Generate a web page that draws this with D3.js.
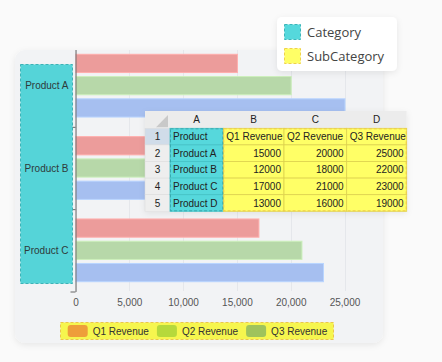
<!DOCTYPE html>
<html>
<head>
<meta charset="utf-8">
<script src="https://cdn.jsdelivr.net/npm/d3@7"></script>
<style>
  html, body { margin: 0; padding: 0; background: #fafafa; }
  svg { display: block; font-family: "Liberation Sans", Arial, sans-serif; }
</style>
</head>
<body>
<svg id="chart" width="442" height="362"></svg>
<script>
// data
var products = ["Product A", "Product B", "Product C", "Product D"];
var seriesNames = ["Q1 Revenue", "Q2 Revenue", "Q3 Revenue"];
var q1Values = [15000, 12000, 17000, 13000];
var q2Values = [20000, 18000, 21000, 16000];
var q3Values = [25000, 22000, 23000, 19000];
var xTicks = [0, 5000, 10000, 15000, 20000, 25000];
var colLetters = ["A", "B", "C", "D"];
var legendNames = ["Category", "SubCategory"];

// only the first three products are charted
var chartProducts = products.slice(0, 3);
var barColors = ["#ec9c9b", "#b7d8a9", "#a6bff0"];
var legendColors = ["#ee9e3a", "#b6d93b", "#9fc35c"];

var svg = d3.select("#chart");
var defs = svg.append("defs");

var shadow = defs.append("filter").attr("id", "shadow")
    .attr("x", "-20%").attr("y", "-20%").attr("width", "140%").attr("height", "140%");
shadow.append("feDropShadow").attr("dx", 0).attr("dy", 2).attr("stdDeviation", 3)
    .attr("flood-color", "#000").attr("flood-opacity", 0.08);

// card
svg.append("rect")
    .attr("x", 15).attr("y", 50).attr("width", 368).attr("height", 293)
    .attr("rx", 10).attr("fill", "#f2f3f5")
    .attr("filter", "url(#shadow)");

defs.append("clipPath").attr("id", "cardClip")
    .append("rect").attr("x", 15).attr("y", 50).attr("width", 368).attr("height", 293);

var plot = svg.append("g").attr("clip-path", "url(#cardClip)");

var xScale = d3.scaleLinear().domain([0, 25000]).range([75.5, 344.5]);
var yScale = d3.scaleBand().domain(chartProducts).range([44.5, 291.5]).padding(0);
var yInner = d3.scaleBand().domain(seriesNames).range([0, yScale.bandwidth()])
    .paddingInner(0.18).paddingOuter(0.44);
var yBound = d3.scaleLinear().domain([0, chartProducts.length]).range([44.5, 291.5]);

// grid
plot.selectAll(".grid")
    .data(xTicks)
    .enter().append("line")
    .attr("class", "grid")
    .attr("x1", function(d) { return Math.round(xScale(d)) + 0.5; })
    .attr("x2", function(d) { return Math.round(xScale(d)) + 0.5; })
    .attr("y1", 50).attr("y2", 291)
    .attr("stroke", "#e5e7eb").attr("stroke-width", 1);

var records = chartProducts.map(function(p, i) {
    return { product: p, values: [q1Values[i], q2Values[i], q3Values[i]] };
});

var groups = plot.selectAll(".prod")
    .data(records)
    .enter().append("g")
    .attr("class", "prod")
    .attr("transform", function(d) { return "translate(0," + yScale(d.product) + ")"; });

groups.selectAll("rect")
    .data(function(d) { return d.values.map(function(v, j) { return { s: seriesNames[j], v: v, j: j }; }); })
    .enter().append("rect")
    .attr("x", xScale(0) + 0.5)
    .attr("y", function(d) { return yInner(d.s); })
    .attr("width", function(d) { return xScale(d.v) - xScale(0); })
    .attr("height", yInner.bandwidth())
    .attr("fill", function(d) { return barColors[d.j]; })
    .attr("stroke", function(d) { return d3.color(barColors[d.j]).brighter(0.3); })
    .attr("stroke-width", 1);

// y axis with ticks on the band boundaries
var yAxis = d3.axisLeft(yBound)
    .tickValues(d3.range(chartProducts.length + 1))
    .tickFormat("")
    .tickSize(5)
    .tickSizeOuter(0);

plot.append("g")
    .attr("transform", "translate(" + xScale(0) + ",0)")
    .call(yAxis)
    .call(function(g) {
        g.select(".domain").attr("stroke", "#666");
        g.selectAll(".tick line").attr("stroke", "#666");
    });

// x axis labels only
var xAxis = d3.axisBottom(xScale)
    .tickValues(xTicks)
    .tickFormat(d3.format(","))
    .tickSize(0)
    .tickPadding(8);

svg.append("g")
    .attr("transform", "translate(0,291)")
    .call(xAxis)
    .call(function(g) {
        g.select(".domain").remove();
        g.selectAll("text").attr("fill", "#555").style("font-size", "10px")
            .style("font-family", "'Liberation Sans', Arial, sans-serif");
    });

// category highlight
svg.append("rect")
    .attr("x", 20.5).attr("y", 64.5).attr("width", 52).attr("height", 219)
    .attr("fill", "#55d4d8").attr("stroke", "#3bb3b7")
    .attr("stroke-dasharray", "3,2");

svg.selectAll(".catLabel")
    .data(chartProducts)
    .enter().append("text")
    .attr("class", "catLabel")
    .attr("x", 68.5)
    .attr("y", function(d) { return yScale(d) + yScale.bandwidth() / 2; })
    .attr("dy", "0.35em")
    .attr("text-anchor", "end")
    .attr("fill", "#2f3a3a")
    .style("font-size", "10px")
    .text(function(d) { return d; });

// bottom legend
svg.append("rect")
    .attr("x", 60.5).attr("y", 322.5).attr("width", 273).attr("height", 17)
    .attr("fill", "#f6f64e").attr("stroke", "#ebc64a").attr("stroke-dasharray", "3,2");

var legItems = svg.selectAll(".leg")
    .data(seriesNames)
    .enter().append("g")
    .attr("class", "leg")
    .attr("transform", function(d, i) { return "translate(" + (67.7 + i * 89.2) + ",325)"; });

legItems.append("rect")
    .attr("width", 20).attr("height", 12).attr("rx", 3)
    .attr("fill", function(d, i) { return legendColors[i]; });

legItems.append("text")
    .attr("x", 25).attr("y", 6).attr("dy", "0.35em")
    .attr("fill", "#333")
    .style("font-size", "10px")
    .text(function(d) { return d; });

// spreadsheet overlay
var colWidths = [25, 53.3, 60.7, 62.7, 60];
var colX = [0];
colWidths.forEach(function(w, i) { colX.push(colX[i] + w); });
var headH = 17.3, rowH = 16.6;
var tableRows = [["Product"].concat(seriesNames)].concat(products.map(function(p, i) {
    return [p, q1Values[i], q2Values[i], q3Values[i]];
}));
var tableW = colX[colX.length - 1];
var tableH = headH + rowH * tableRows.length;

var table = svg.append("g").attr("transform", "translate(145,111)");

table.append("rect")
    .attr("width", tableW).attr("height", tableH)
    .attr("fill", "#fff").attr("filter", "url(#shadow)");

// column header row
table.append("rect").attr("width", tableW).attr("height", headH).attr("fill", "#ececec");
table.selectAll(".colHead")
    .data(colLetters)
    .enter().append("text")
    .attr("x", function(d, i) { return (colX[i + 1] + colX[i + 2]) / 2; })
    .attr("y", headH / 2).attr("dy", "0.35em")
    .attr("text-anchor", "middle").attr("fill", "#222")
    .style("font-size", "10px")
    .text(function(d) { return d; });

// corner triangle
table.append("path")
    .attr("d", "M" + (colWidths[0] - 2) + "," + 4 + "L" + (colWidths[0] - 2) + "," + (headH - 1) +
        "L" + (colWidths[0] - 14) + "," + (headH - 1) + "Z")
    .attr("fill", "#c9c9c9");

// row headers
table.selectAll(".rowHead")
    .data(tableRows)
    .enter().append("rect")
    .attr("y", function(d, i) { return headH + i * rowH; })
    .attr("width", colWidths[0]).attr("height", rowH)
    .attr("fill", function(d, i) { return i === 0 ? "#d0dce9" : "#eeeeee"; })
    .attr("stroke", "#dadada").attr("stroke-width", 0.5);

table.selectAll(".rowNum")
    .data(tableRows)
    .enter().append("text")
    .attr("x", colWidths[0] / 2)
    .attr("y", function(d, i) { return headH + i * rowH + rowH / 2; })
    .attr("dy", "0.35em").attr("text-anchor", "middle").attr("fill", "#222")
    .style("font-size", "10px")
    .text(function(d, i) { return i + 1; });

// cells
var cells = [];
tableRows.forEach(function(row, r) {
    row.forEach(function(v, c) { cells.push({ r: r, c: c, v: v }); });
});

table.selectAll(".cell")
    .data(cells)
    .enter().append("rect")
    .attr("x", function(d) { return colX[d.c + 1]; })
    .attr("y", function(d) { return headH + d.r * rowH; })
    .attr("width", function(d) { return colWidths[d.c + 1]; })
    .attr("height", rowH)
    .attr("fill", function(d) { return d.c === 0 ? "#56d8dc" : "#ffff66"; })
    .attr("stroke", function(d) { return d.c === 0 ? "#44c2c6" : "#ddd24e"; })
    .attr("stroke-width", 0.8);

table.append("clipPath").attr("id", "tableClip")
    .append("rect").attr("width", tableW).attr("height", tableH);

table.append("g").attr("clip-path", "url(#tableClip)")
    .selectAll(".cellText")
    .data(cells)
    .enter().append("text")
    .attr("x", function(d) {
        return typeof d.v === "number" ? colX[d.c + 2] - 3 : colX[d.c + 1] + 3;
    })
    .attr("y", function(d) { return headH + d.r * rowH + rowH / 2; })
    .attr("dy", "0.35em")
    .attr("text-anchor", function(d) { return typeof d.v === "number" ? "end" : "start"; })
    .attr("fill", "#222")
    .style("font-size", "10px")
    .text(function(d) { return d.v; });

// dashed selection borders
table.append("rect")
    .attr("x", colX[1] + 0.5).attr("y", headH + 0.5)
    .attr("width", colWidths[1] - 1).attr("height", rowH * tableRows.length - 1)
    .attr("fill", "none").attr("stroke", "#39a9ad").attr("stroke-dasharray", "3,2");
table.append("rect")
    .attr("x", colX[2] + 0.5).attr("y", headH + 0.5)
    .attr("width", tableW - colX[2] - 1).attr("height", rowH * tableRows.length - 1)
    .attr("fill", "none").attr("stroke", "#f0c94a").attr("stroke-dasharray", "3,2");

// top right legend
svg.append("rect")
    .attr("x", 277).attr("y", 17).attr("width", 120).attr("height", 54)
    .attr("rx", 5).attr("fill", "#fff").attr("filter", "url(#shadow)");

var keyFills = ["#55d8dc", "#ffff66"];
var keyStrokes = ["#3bb6ba", "#f0d24a"];
var keys = svg.selectAll(".key")
    .data(legendNames)
    .enter().append("g")
    .attr("class", "key")
    .attr("transform", function(d, i) { return "translate(284.5," + (24.5 + i * 24) + ")"; });

keys.append("rect")
    .attr("width", 16).attr("height", 15)
    .attr("fill", function(d, i) { return keyFills[i]; })
    .attr("stroke", function(d, i) { return keyStrokes[i]; })
    .attr("stroke-dasharray", "3,2");

keys.append("text")
    .attr("x", 22.5).attr("y", 7.5).attr("dy", "0.35em")
    .attr("fill", "#444")
    .style("font-family", "'Open Sans', sans-serif")
    .style("font-size", "13px")
    .text(function(d) { return d; });
</script>
</body>
</html>
